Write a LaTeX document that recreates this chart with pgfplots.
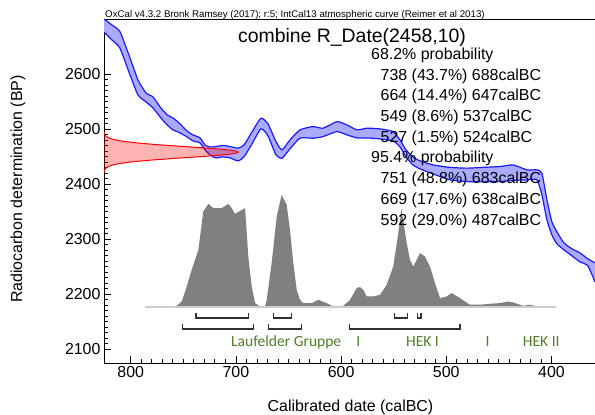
\documentclass[border=0pt]{standalone}
\usepackage{fontspec}
\setmainfont{Liberation Sans}
\newfontfamily\carlito{Carlito}
\usepackage{pgfplots}
\pgfplotsset{compat=1.18}
\usepgfplotslibrary{fillbetween}
\usepackage{pgfplotstable}
\definecolor{bandfill}{RGB}{170,170,255}
\definecolor{curveblue}{RGB}{25,25,255}
\definecolor{histgray}{RGB}{128,128,128}
\definecolor{basegray}{RGB}{205,205,205}
\definecolor{labgreen}{RGB}{78,128,38}
\definecolor{brk}{RGB}{50,50,50}

\pgfplotstableread{
x u l
825.4 2700 2676
817.8 2688.9 2661.7
810.2 2676.8 2646.6
800.7 2629.0 2598.2
793.1 2589.1 2561.9
785.5 2565.5 2549.2
778.8 2558.3 2538.3
772.1 2540.1 2522.0
765.4 2525.6 2507.4
759.8 2520.1 2498.4
753.1 2509.3 2492.9
746.5 2496.5 2485.7
740.8 2489.3 2478.4
734.1 2483.8 2474.8
729.4 2471.1 2462.1
724.6 2467.5 2453.0
718.9 2468.1 2447.5
712.3 2470.2 2449.4
705.6 2468.1 2447.5
698.0 2465.2 2442.1
692.3 2471.1 2449.4
684.7 2494.7 2473.0
676.2 2519.6 2500.2
669.5 2509.3 2487.5
661.9 2477.1 2453.0
656.2 2462.1 2447.0
648.6 2480.2 2463.9
639.1 2498.4 2483.3
626.7 2504.4 2483.3
617.2 2501.5 2486.2
603.9 2513.4 2495.3
594.4 2507.4 2489.3
584.9 2498.4 2483.8
575.4 2501.5 2483.8
563.0 2500.2 2482.0
550.7 2495.3 2478.4
544.0 2480.2 2467.5
538.3 2462.1 2449.4
531.7 2449.4 2434.8
525.0 2442.1 2427.6
512.6 2434.8 2418.5
496.5 2430.3 2407.6
480.3 2428.9 2404.5
465.1 2430.3 2404.0
449.0 2431.8 2404.5
436.6 2434.8 2406.7
423.3 2425.8 2407.6
413.8 2425.8 2407.6
409.1 2419.8 2380.4
404.3 2371.3 2335.0
399.6 2331.4 2307.8
394.8 2313.2 2291.5
388.2 2293.3 2280.6
380.6 2282.4 2269.7
373.0 2275.1 2258.8
365.4 2264.2 2251.5
358.7 2257.0 2222.5
}\calcurve

\begin{document}
\begin{tikzpicture}
\begin{axis}[
  name=ax, scale only axis, width=491bp, height=343bp,
  x dir=reverse, xmin=358.6, xmax=825.4, ymin=2075, ymax=2698,
  xtick={400,500,600,700,800}, ytick={2100,2200,2300,2400,2500,2600},
  minor x tick num=9, minor y tick num=9,
  tick pos=left, tick align=inside,
  major tick length=7bp, minor tick length=4bp,
  every tick/.style={black, line width=0.8bp},
  axis line style={black, line width=1bp},
  no markers,
  /pgf/number format/assume math mode=true,
  /pgf/number format/1000 sep={},
  tick label style={font=\fontsize{16}{19}\selectfont},
  xlabel={Calibrated date (calBC)},
  ylabel={Radiocarbon determination (BP)},
  every axis x label/.style={at={(axis description cs:0.502,-0.128)}, anchor=center, font=\fontsize{16}{19}\selectfont},
  every axis y label/.style={at={(axis description cs:-0.1752,0.507)}, anchor=center, rotate=90, font=\fontsize{16}{19}\selectfont},
]
% calibration curve band
\addplot[draw=none, smooth, tension=0.35, name path=U, forget plot] table[x=x,y=u]{\calcurve};
\addplot[draw=none, smooth, tension=0.35, name path=L, forget plot] table[x=x,y=l]{\calcurve};
\addplot[fill=bandfill, draw=none] fill between[of=U and L];
\addplot[curveblue, line width=1.2bp, smooth, tension=0.35] table[x=x,y=u]{\calcurve};
\addplot[curveblue, line width=1.2bp, smooth, tension=0.35] table[x=x,y=l]{\calcurve};
% radiocarbon date distribution (2458 +/- 10)
\addplot[red, line width=1bp, fill=red, fill opacity=0.3] coordinates {
(825.4,2422) (825.2,2422) (824.9,2425) (824.0,2428) (822.1,2431) (820.5,2432.5) (818.2,2434) (815.2,2435.5) (811.3,2437)
(806.3,2438.5) (800.1,2440) (792.7,2441.5) (783.9,2443) (774.1,2444.5) (763.2,2446) (751.8,2447.5)
(740.2,2449) (729.0,2450.5) (718.7,2452) (710.0,2453.5) (703.3,2455) (699.1,2456.5) (697.7,2458)
(699.1,2459.5) (703.3,2461) (710.0,2462.5) (718.7,2464) (729.0,2465.5) (740.2,2467) (751.8,2468.5)
(763.2,2470) (774.1,2471.5) (783.9,2473) (792.7,2474.5) (800.1,2476) (806.3,2477.5) (811.3,2479)
(815.2,2480.5) (818.2,2482) (820.5,2483.5) (822.1,2485) (824.0,2488) (824.9,2491) (825.2,2494) (825.4,2494)
};
% calibrated posterior
\addplot[draw=none, fill=histgray] coordinates {
(786.4,2176.6) (765.8,2176.6) (756.3,2178.9) (751.5,2186.7) (746.8,2213.9) (742.0,2244.3) (735.7,2280.6)
(731.0,2350.1) (726.2,2364.1) (721.5,2356.3) (713.5,2356.3) (707.2,2364.1) (704.0,2356.3) (700.9,2345.9)
(691.3,2356.3) (688.2,2268.4) (685.0,2213.9) (681.8,2183.8) (677.1,2177.7) (672.3,2177.7) (670.7,2189.8)
(666.0,2256.4) (661.2,2341.0) (656.5,2380.4) (651.7,2362.2) (648.6,2316.9) (645.4,2256.4) (642.2,2208.0)
(639.1,2189.8) (635.9,2183.8) (627.9,2183.8) (621.7,2189.8) (613.7,2183.8) (607.4,2177.7) (597.9,2178.9)
(591.5,2189.8) (585.2,2211.1) (582.0,2212.9) (578.9,2208.0) (575.7,2195.8) (569.4,2195.8) (563.0,2198.9)
(556.7,2217.0) (550.4,2250.2) (545.6,2310.9) (542.6,2355.0) (537.6,2292.7) (534.5,2262.4) (531.4,2250.2)
(525.0,2274.6) (520.3,2268.4) (515.5,2250.2) (510.7,2220.1) (506.0,2192.9) (499.6,2195.8) (494.9,2202.0)
(487.0,2192.9) (477.5,2180.8) (468.0,2180.8) (458.5,2182.6) (449.0,2183.8) (441.1,2186.7) (436.3,2184.9)
(426.8,2178.9) (420.4,2180.8) (414.1,2177.7) (411.1,2176.6)
};
\addplot[basegray, line width=2bp] coordinates {(786.4,2176.6) (395.7,2176.6)};
% 68.2% ranges
\addplot[brk, line width=1.2bp] coordinates {(738,2165.7) (738,2156.6) (688,2156.6) (688,2165.7)};
\addplot[brk, line width=1.2bp] coordinates {(664,2165.7) (664,2156.6) (647,2156.6) (647,2165.7)};
\addplot[brk, line width=1.2bp] coordinates {(549,2165.7) (549,2156.6) (537,2156.6) (537,2165.7)};
\addplot[brk, line width=1.2bp] coordinates {(527,2165.7) (527,2156.6) (524,2156.6) (524,2165.7)};
% 95.4% ranges
\addplot[brk, line width=1.2bp] coordinates {(751,2145.7) (751,2136.7) (683,2136.7) (683,2145.7)};
\addplot[brk, line width=1.2bp] coordinates {(669,2145.7) (669,2136.7) (638,2136.7) (638,2145.7)};
\addplot[brk, line width=1.2bp] coordinates {(592,2145.7) (592,2136.7) (487,2136.7) (487,2145.7)};
\end{axis}
\pgfresetboundingbox
\path[use as bounding box] ([xshift=-104bp,yshift=-52bp]ax.south west) rectangle ([yshift=20bp]ax.north east);
% header and title
\node[anchor=base west, inner sep=0, font=\fontsize{9.75}{11}\selectfont] at ([xshift=1bp,yshift=2bp]ax.north west) {OxCal v4.3.2 Bronk Ramsey (2017); r:5; IntCal13 atmospheric curve (Reimer et al 2013)};
\node[anchor=base, inner sep=0, font=\fontsize{19.5}{23}\selectfont] at ([xshift=248bp,yshift=-23bp]ax.north west) {combine R\_Date(2458,10)};
% ranges text
\begin{scope}[every node/.style={anchor=base west, inner sep=0, font=\fontsize{16}{19}\selectfont}]
\node at ([xshift=267bp,yshift=-39.5bp]ax.north west) {68.2\% probability};
\node at ([xshift=276.5bp,yshift=-60.2bp]ax.north west) {738 (43.7\%) 688calBC};
\node at ([xshift=276.5bp,yshift=-80.9bp]ax.north west) {664 (14.4\%) 647calBC};
\node at ([xshift=276.5bp,yshift=-101.6bp]ax.north west) {549 (8.6\%) 537calBC};
\node at ([xshift=276.5bp,yshift=-122.3bp]ax.north west) {527 (1.5\%) 524calBC};
\node at ([xshift=267bp,yshift=-143.0bp]ax.north west) {95.4\% probability};
\node at ([xshift=276.5bp,yshift=-163.7bp]ax.north west) {751 (48.8\%) 683calBC};
\node at ([xshift=276.5bp,yshift=-184.4bp]ax.north west) {669 (17.6\%) 638calBC};
\node at ([xshift=276.5bp,yshift=-205.1bp]ax.north west) {592 (29.0\%) 487calBC};
\end{scope}
% phase labels
\begin{scope}[every node/.style={anchor=base, inner sep=0, text=labgreen, font=\carlito\fontsize{15.6}{18}\selectfont}]
\node at ([xshift=182.2bp,yshift=-327bp]ax.north west) {Laufelder Gruppe};
\node at ([xshift=254.3bp,yshift=-327bp]ax.north west) {I};
\node at ([xshift=318.5bp,yshift=-327bp]ax.north west) {HEK I};
\node at ([xshift=383.7bp,yshift=-327bp]ax.north west) {I};
\node at ([xshift=437.3bp,yshift=-327bp]ax.north west) {HEK II};
\end{scope}
\end{tikzpicture}
\end{document}
